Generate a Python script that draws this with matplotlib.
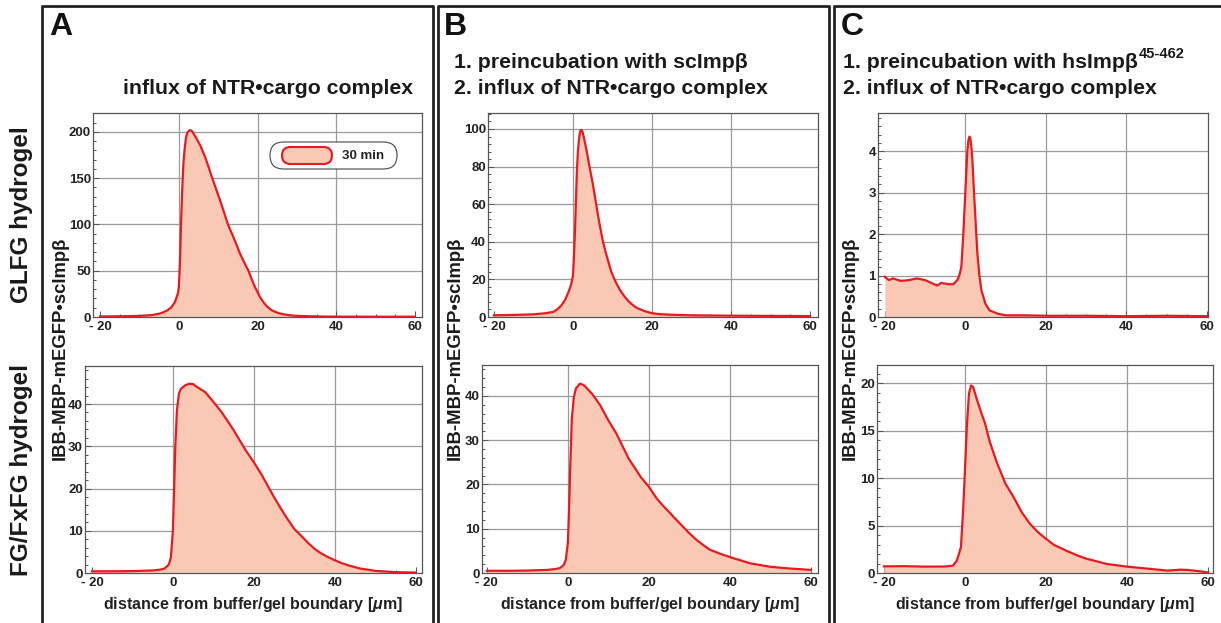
import matplotlib
matplotlib.use("Agg")
import matplotlib.pyplot as plt
from matplotlib.lines import Line2D
from matplotlib.patches import FancyBboxPatch
from matplotlib.transforms import Affine2D
from matplotlib.ticker import AutoMinorLocator

plt.rcParams["font.family"] = ["Liberation Sans", "DejaVu Sans"]
plt.rcParams["font.weight"] = "bold"
plt.rcParams["mathtext.fontset"] = "custom"
plt.rcParams["mathtext.rm"] = "Liberation Sans:bold"
plt.rcParams["mathtext.it"] = "Liberation Sans:bold:italic"
plt.rcParams["mathtext.bf"] = "Liberation Sans:bold"

# ---- data ----
x_a_top = [-20, -15, -10, -7, -5, -4, -3, -2, -1, -0.5, -0.2, 0, 0.15, 0.3, 0.45,
           0.6, 0.8, 1.0, 1.2, 1.5, 1.8, 2.0, 2.3, 2.8, 3.2, 3.5, 4.5, 5.5, 6.5,
           7.5, 8.5, 9.5, 10.5, 11.5, 12.5, 13.5, 14.5, 15.5, 16.5, 17.7, 18.6,
           19.4, 20, 20.5, 21.5, 22.5, 23.5, 24.5, 25.5, 26.5, 28, 30, 35, 40, 50, 60]
y_a_top = [0.6, 0.8, 1.2, 2, 3.5, 5, 7, 10, 16, 22, 26, 32, 45, 60, 82,
           105, 130, 150, 168, 182, 193, 197, 200, 202, 201.5, 200, 193, 185, 175,
           163, 150, 138, 126, 113, 100, 90, 80, 69, 60, 50, 40,
           32, 27, 22.5, 16, 11, 7.6, 5.5, 4, 3, 2, 1.2, 0.6, 0.4, 0.3, 0.3]

x_a_bot = [-20, -15, -10, -5, -3, -2, -1, -0.5, 0, 0.3, 0.6, 1, 1.5, 2, 3, 4, 5, 6,
           8, 10, 12, 13.5, 15, 16.5, 18, 20, 22, 23.5, 25, 26.5, 28, 30, 32, 33.5,
           35, 36.5, 38, 40, 41.5, 43, 46, 50, 55, 60]
y_a_bot = [0.4, 0.4, 0.45, 0.6, 0.8, 1.1, 2.0, 3.7, 10, 20, 30, 38.5, 42.5, 43.6,
           44.4, 44.8, 44.7, 44.0, 42.8, 40.5, 38.1, 36.0, 33.8, 31.4, 29.0, 26.2,
           23.1, 20.5, 17.9, 15.5, 13.2, 10.4, 8.5, 7.0, 5.7, 4.7, 3.9, 3.0, 2.4,
           1.9, 1.1, 0.5, 0.2, 0.1]

x_b_top = [-20, -15, -10, -7, -5, -4, -3, -2, -1, -0.5, 0, 0.25, 0.5, 0.75, 1, 1.25,
           1.5, 1.75, 2, 2.25, 2.5, 3, 3.5, 4, 5, 5.8, 6.5, 7.5, 8.2, 9, 9.7, 10.5,
           11.2, 12, 13, 14, 15, 16, 18, 20, 22, 25, 30, 40, 50, 60]
y_b_top = [0.9, 1.1, 1.4, 2, 2.7, 4, 6, 9, 14, 17, 22, 32, 45, 62, 78, 88,
           94, 98, 99.5, 99.3, 98, 93, 88, 82, 71, 61, 52, 41, 35, 29, 24, 20,
           17, 14, 11, 8.5, 6.6, 5, 3.2, 2, 1.5, 1.2, 0.9, 0.7, 0.6, 0.5]

x_b_bot = [-20, -15, -10, -5, -3, -2, -1, -0.5, 0, 0.3, 0.6, 1, 1.5, 2, 3, 4, 6, 8,
           10, 12, 13.5, 15, 16.5, 18, 20, 22, 23.5, 25, 26.5, 28, 30, 32, 33.5, 35,
           37.5, 40, 42.5, 45, 50, 55, 60]
y_b_bot = [0.5, 0.5, 0.55, 0.7, 0.9, 1.1, 1.8, 3, 6.7, 14, 24, 35, 39.8, 41.7,
           42.8, 42.4, 40.5, 37.9, 34.5, 31.5, 28.7, 25.9, 23.8, 21.7, 19.5, 16.8,
           15.2, 13.8, 12.3, 10.9, 9.0, 7.3, 6.3, 5.3, 4.4, 3.6, 2.9, 2.2, 1.4,
           1.0, 0.7]

x_c_top = [-20, -19, -18, -16, -14, -12, -10, -8, -7, -6, -4, -3, -2, -1.5, -1,
           -0.5, 0, 0.5, 0.75, 1, 1.25, 1.5, 1.75, 2, 2.25, 2.5, 2.75, 3, 3.5, 4,
           5, 6, 8, 10, 15, 20, 30, 40, 50, 60]
y_c_top = [0.97, 0.89, 0.93, 0.87, 0.89, 0.93, 0.89, 0.80, 0.76, 0.82, 0.79, 0.79,
           0.89, 1.0, 1.2, 2.0, 3.0, 4.0, 4.25, 4.35, 4.3, 4.1, 3.8, 3.3, 2.85, 2.4,
           1.95, 1.53, 1.0, 0.64, 0.32, 0.16, 0.08, 0.04, 0.04, 0.03, 0.03, 0.02,
           0.03, 0.02]

x_c_bot = [-20, -15, -10, -5, -3, -2, -1, -0.5, 0, 0.5, 1, 1.5, 2, 3, 4, 5, 6, 7, 8,
           10, 12, 14, 16, 18, 20, 22, 25, 28, 30, 35, 40, 45, 50, 53, 55, 58, 60]
y_c_bot = [0.7, 0.72, 0.67, 0.68, 0.77, 1.3, 2.7, 6.2, 10.8, 15.7, 18.9, 19.75,
           19.6, 18.2, 16.9, 15.7, 14.0, 12.7, 11.5, 9.4, 8.0, 6.4, 5.2, 4.3, 3.6,
           2.95, 2.35, 1.8, 1.5, 0.95, 0.67, 0.46, 0.25, 0.35, 0.32, 0.18, 0.05]

x_ticks = [-20, 0, 20, 40, 60]
x_tick_labels = ["- 20", "0", "20", "40", "60"]
legend_label = "30 min"
row_labels = ["GLFG hydrogel", "FG/FxFG hydrogel"]
y_label = "IBB-MBP-mEGFP•scImpβ"
x_label = "distance from buffer/gel boundary [$\\mathit{\\mu}$m]"

fill_color = "#F9C9B5"
line_color = "#E8191F"

W, H = 1221, 623
fig = plt.figure(figsize=(W / 100, H / 100), dpi=100)
px = Affine2D().scale(1 / W, -1 / H).translate(0, 1) + fig.transFigure


def ax_at(l, t, r, b):
    return fig.add_axes([l / W, 1 - b / H, (r - l) / W, (b - t) / H])


panels = [
    ((93, 113, 422, 317), (-21.8, 61.8), 220.5, [0, 50, 100, 150, 200], x_a_top, y_a_top),
    ((85, 366, 422, 573), (-21.7, 61.5), 49, [0, 10, 20, 30, 40], x_a_bot, y_a_bot),
    ((488, 113, 818, 317), (-21.5, 62.0), 108.5, [0, 20, 40, 60, 80, 100], x_b_top, y_b_top),
    ((482, 365, 818, 573), (-21.2, 61.8), 47, [0, 10, 20, 30, 40], x_b_bot, y_b_bot),
    ((878, 113, 1208, 317), (-21.7, 60.3), 4.92, [0, 1, 2, 3, 4], x_c_top, y_c_top),
    ((877, 365, 1213, 573), (-21.7, 61.2), 21.9, [0, 5, 10, 15, 20], x_c_bot, y_c_bot),
]

axes = []
for rect, xlim, ytop, yticks, xs, ys in panels:
    ax = ax_at(*rect)
    ax.fill_between(xs, ys, 0, color=fill_color, lw=0, zorder=2)
    ax.plot(xs, ys, color=line_color, lw=1.6, zorder=3, solid_joinstyle="round")
    ax.set_xlim(*xlim)
    ax.set_ylim(0, ytop)
    ax.set_xticks(x_ticks)
    ax.set_xticklabels(x_tick_labels)
    ax.set_yticks(yticks)
    ax.xaxis.set_minor_locator(AutoMinorLocator(4))
    ax.yaxis.set_minor_locator(AutoMinorLocator(5))
    ax.tick_params(which="both", direction="in", color="#555555", labelsize=9.5,
                   width=0.7)
    ax.tick_params(axis="x", pad=2.6)
    ax.tick_params(axis="y", pad=1.5)
    ax.tick_params(which="major", length=4)
    ax.tick_params(which="minor", length=2)
    for lab in ax.get_xticklabels() + ax.get_yticklabels():
        lab.set_fontweight("bold")
        lab.set_color("#222222")
    for s in ax.spines.values():
        s.set_color("#555555")
        s.set_linewidth(0.9)
    # grid lines only at interior ticks
    for xv in x_ticks[1:-1]:
        ax.axvline(xv, color="#9a9a9a", lw=0.9, zorder=1)
    for yv in yticks[1:]:
        ax.axhline(yv, color="#9a9a9a", lw=0.9, zorder=1)
    axes.append(ax)

# frames around the three panels
frame_kw = dict(color="#222222", lw=2.0, transform=px, solid_capstyle="butt")
for (x0, x1, right) in [(42, 432.7, True), (437.7, 828.7, True), (833.5, 1221, False)]:
    fig.add_artist(Line2D([x0, x0], [6, 623], **frame_kw))
    fig.add_artist(Line2D([x0 - 1, x1 + 1], [6, 6], **frame_kw))
    if right:
        fig.add_artist(Line2D([x1, x1], [6, 623], **frame_kw))

# panel letters
for letter, xl in [("A", 49), ("B", 444), ("C", 841)]:
    fig.text(xl, 27, letter, transform=px, fontsize=23, fontweight="bold",
             ha="left", va="center", color="#111111")

# titles
tkw = dict(transform=px, fontsize=15.3, fontweight="bold", ha="left", va="center",
           color="#1a1a1a")
fig.text(123, 88, "influx of NTR•cargo complex", **tkw)
fig.text(454, 63, "1. preincubation with scImpβ", **tkw)
fig.text(454, 88, "2. influx of NTR•cargo complex", **tkw)
t_c = fig.text(843, 63, "1. preincubation with hsImpβ", **tkw)
fig.text(843, 88, "2. influx of NTR•cargo complex", **tkw)
renderer = fig.canvas.get_renderer()
bb = t_c.get_window_extent(renderer)
fig.text(bb.x1 + 1, 54, "45-462", transform=px, fontsize=10.5, fontweight="bold",
         ha="left", va="center", color="#1a1a1a")

# row labels
fig.text(22, 215, row_labels[0], transform=px, fontsize=17.5, fontweight="bold",
         rotation=90, ha="center", va="center", color="#1a1a1a")
fig.text(22, 470, row_labels[1], transform=px, fontsize=17.5, fontweight="bold",
         rotation=90, ha="center", va="center", color="#1a1a1a")

# y labels
for xl in [60, 455, 850]:
    fig.text(xl, 348, y_label, transform=px, fontsize=13.3, fontweight="bold",
             rotation=90, ha="center", va="center", color="#1a1a1a")

# x labels
for xl in [253, 650, 1045]:
    fig.text(xl, 604, x_label, transform=px, fontsize=11.5, fontweight="bold",
             ha="center", va="center", color="#222222")

# legend in panel A top
fig.add_artist(FancyBboxPatch((270, 142), 127, 27,
                              boxstyle="round,pad=0,rounding_size=13.5",
                              transform=px, fc="white", ec="#444444", lw=0.8))
fig.add_artist(FancyBboxPatch((282, 147), 50, 17,
                              boxstyle="round,pad=0,rounding_size=8.5",
                              transform=px, fc=fill_color, ec=line_color, lw=1.5))
fig.text(363, 156, legend_label, transform=px, fontsize=9.5, fontweight="bold",
         ha="center", va="center", color="#222222")

fig.savefig("out.png", dpi=100)
